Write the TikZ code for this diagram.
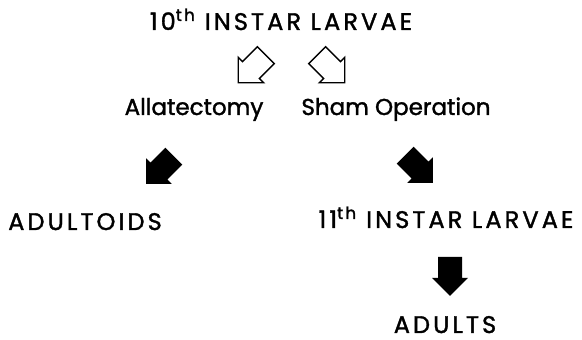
\documentclass[tikz,border=0pt]{standalone}
\usepackage{fontspec}
\setmainfont{Poppins}[FakeBold=1.5]

\tikzset{
  stage/.style={anchor=base, inner sep=0pt,
    font=\fontsize{24}{28}\selectfont\addfontfeature{LetterSpace=13}},
  step label/.style={anchor=base, inner sep=0pt, font=\fontsize{23}{27}\selectfont},
  openarrow/.style={draw=black, line width=1.4pt, fill=white, line join=miter},
  solidarrow/.style={fill=black},
  pics/blockarrow/.style={code={
    \path[#1] (-19.5,-12) -- (1.5,-12) -- (1.5,-18) -- (19.5,0)
      -- (1.5,18) -- (1.5,12) -- (-19.5,12) -- cycle;
  }}
}

\begin{document}
\begin{tikzpicture}[x=1pt, y=1pt]
\useasboundingbox (0,0) rectangle (582,340);

\node[stage] (larvaeten) at (281, 310) {10\textsuperscript{th} INSTAR LARVAE};

\pic[rotate=-135] (openleft) at (252, 271) {blockarrow=openarrow};
\pic[rotate=-45] (openright) at (331, 271) {blockarrow=openarrow};

\node[step label] (allat) at (194, 225) {Allatectomy};
\node[step label] (sham) at (396, 225) {Sham Operation};

\pic[rotate=-135] (solidleft) at (160, 170) {blockarrow=solidarrow};
\pic[rotate=-45] (solidright) at (419, 171) {blockarrow=solidarrow};

\node[stage] (adultoids) at (85, 110) {ADULTOIDS};
\node[stage] (larvaeeleven) at (446, 112) {11\textsuperscript{th} INSTAR LARVAE};

\pic[rotate=-90] (soliddown) at (450, 63.5) {blockarrow=solidarrow};

\node[stage] (adults) at (445, 7) {ADULTS};

\end{tikzpicture}
\end{document}
